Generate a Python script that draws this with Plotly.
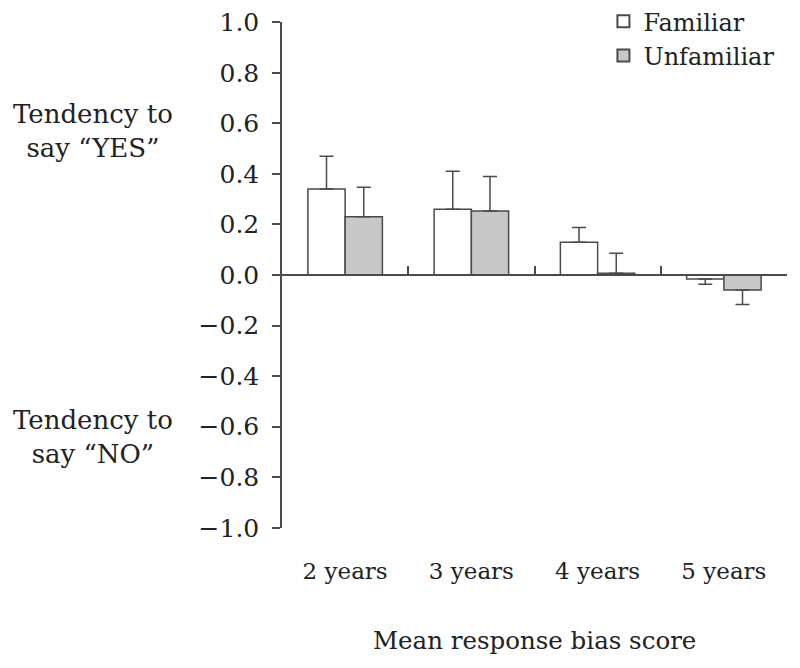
import plotly.graph_objects as go

categories = ["2 years", "3 years", "4 years", "5 years"]
familiar = [0.34, 0.26, 0.13, -0.016]
familiar_err = [0.13, 0.15, 0.058, 0.021]
unfamiliar = [0.23, 0.253, 0.007, -0.059]
unfamiliar_err = [0.117, 0.137, 0.079, 0.058]
y_ticks = [-1.0, -0.8, -0.6, -0.4, -0.2, 0.0, 0.2, 0.4, 0.6, 0.8, 1.0]

FONT = "DejaVu Serif"
TXT = "#222222"
LINE = "#4a4a4a"


def split_err(vals, errs):
    plus = [e if v >= 0 else 0 for v, e in zip(vals, errs)]
    minus = [e if v < 0 else 0 for v, e in zip(vals, errs)]
    return plus, minus


fp, fm = split_err(familiar, familiar_err)
up, um = split_err(unfamiliar, unfamiliar_err)

fig = go.Figure()
fig.add_trace(go.Bar(
    x=categories, y=familiar, name="Familiar",
    marker=dict(color="white", line=dict(color=LINE, width=1.5)),
    error_y=dict(type="data", symmetric=False, array=fp, arrayminus=fm,
                 color=LINE, thickness=1.5, width=7),
))
fig.add_trace(go.Bar(
    x=categories, y=unfamiliar, name="Unfamiliar",
    marker=dict(color="#c8c8c8", line=dict(color=LINE, width=1.5)),
    error_y=dict(type="data", symmetric=False, array=up, arrayminus=um,
                 color=LINE, thickness=1.5, width=7),
))

fig.update_layout(
    width=792, height=660,
    margin=dict(l=274, r=13, t=14, b=140, autoexpand=False),
    paper_bgcolor="white", plot_bgcolor="white",
    barmode="group", bargap=0.41, bargroupgap=0,
    font=dict(family=FONT, size=24, color=TXT),
    showlegend=True,
    legend=dict(x=0.985, xanchor="right", y=1.045, yanchor="top",
                bgcolor="rgba(0,0,0,0)", font=dict(size=24, family=FONT, color=TXT),
                itemsizing="constant", tracegroupgap=0),
    xaxis=dict(
        type="category", categoryorder="array", categoryarray=categories,
        range=[-0.5, 3.5], anchor="free", position=0.5,
        showline=True, linecolor=LINE, linewidth=1.5, showgrid=False,
        zeroline=False, ticks="inside", tickson="boundaries", ticklen=8,
        tickwidth=1.5, tickcolor=LINE, ticklabelstandoff=276,
        tickfont=dict(family=FONT, size=23, color=TXT),
    ),
    yaxis=dict(
        range=[-1.001, 1.001], tickvals=y_ticks, tickformat=".1f",
        showline=True, linecolor=LINE, linewidth=1.5,
        ticks="outside", ticklen=8, tickwidth=1.5, tickcolor=LINE,
        showgrid=False, zeroline=False, ticklabelstandoff=8,
        ticklabeloverflow="allow",
        tickfont=dict(family=FONT, size=25, color=TXT),
    ),
    annotations=[
        dict(text="Tendency to<br>say “YES”", xref="paper", yref="y",
             x=-0.374, y=0.57, xanchor="center", yanchor="middle",
             showarrow=False, align="center",
             font=dict(family=FONT, size=26, color=TXT)),
        dict(text="Tendency to<br>say “NO”", xref="paper", yref="y",
             x=-0.374, y=-0.64, xanchor="center", yanchor="middle",
             showarrow=False, align="center",
             font=dict(family=FONT, size=26, color=TXT)),
        dict(text="Mean response bias score", xref="paper", yref="paper",
             x=0.5, y=-0.222, xanchor="center", yanchor="middle",
             showarrow=False,
             font=dict(family=FONT, size=24.5, color=TXT)),
    ],
)

fig.write_html("out.html")
